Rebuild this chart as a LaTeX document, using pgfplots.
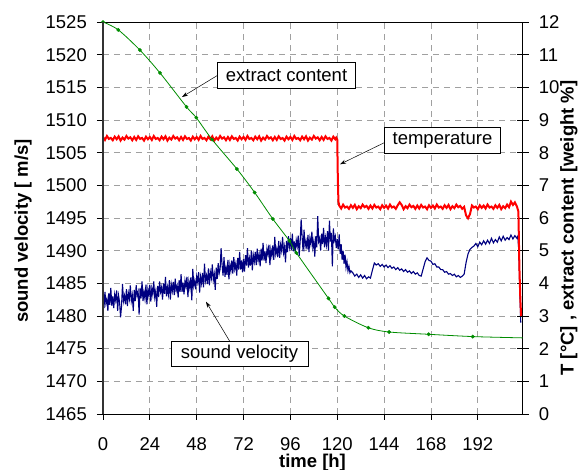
\documentclass[border=0pt]{standalone}
\usepackage{fontspec}
\setmainfont{Liberation Sans}
\usepackage{pgfplots}
\pgfplotsset{compat=1.18}
\usetikzlibrary{arrows.meta}
\definecolor{navyblue}{RGB}{0,0,128}
\definecolor{chgreen}{RGB}{0,140,0}
\definecolor{gridgray}{RGB}{160,160,160}
\pgfplotsset{/pgf/number format/1000 sep={}, /pgf/number format/assume math mode=true}
\begin{document}
\begin{tikzpicture}[font=\fontsize{18.5}{22}\selectfont]
\useasboundingbox (-103pt,-56pt) rectangle (479pt,414pt);
\begin{axis}[
  at={(0,0)}, anchor=south west,
  scale only axis, width=419.7pt, height=392pt,
  xmin=0, xmax=215, ymin=1465, ymax=1525,
  xtick={0,24,...,192}, ytick={1465,1470,...,1525},
  xtick pos=left, ytick pos=left,
  tick align=outside, major tick length=6pt,
  tick style={black, line width=0.8pt},
  axis line style={black, line width=0.8pt},
  grid=major, grid style={gridgray, line width=0.8pt, dash pattern=on 6pt off 5pt},
  yticklabel style={anchor=east, inner sep=0pt, xshift=-10pt},
  xticklabel style={anchor=north, inner sep=0pt, yshift=-17.5pt},
  tick label style={font=\fontsize{18.5}{22}\selectfont},
  clip=true,
]
\addplot[navyblue, line width=1.1pt] table {
0 1483.2
0.5 1481.2
1 1483.7
1.5 1481.9
2 1482.6
2.5 1480.8
3 1483.5
3.5 1481.7
4 1484.3
4.5 1481.6
5 1483.0
5.5 1481.2
6 1483.3
6.5 1482.4
7 1483.9
7.5 1480.8
8 1483.1
8.5 1482.1
9 1479.8
9.5 1481.5
10 1484.9
10.5 1482.3
11 1483.1
11.5 1481.8
12 1484.1
12.5 1481.5
13 1483.5
13.5 1482.6
14 1484.7
14.5 1482.3
15 1483.2
15.5 1480.8
16 1484.0
16.5 1482.3
17 1484.7
17.5 1483.1
18 1483.7
18.5 1480.2
19 1484.3
19.5 1482.7
20 1485.3
20.5 1482.3
21 1483.7
21.5 1482.6
22 1484.8
22.5 1481.8
23 1484.1
23.5 1483.1
24 1484.8
24.5 1482.2
25 1484.2
25.5 1483.3
26 1485.3
26.5 1482.9
27 1483.8
27.5 1481.4
28 1484.6
28.5 1482.9
29 1485.3
29.5 1483.7
30 1484.4
30.5 1482.5
31 1485.0
31.5 1483.4
32 1486.0
32.5 1483.0
33 1484.4
33.5 1483.3
34 1485.5
34.5 1482.5
35 1484.8
35.5 1483.8
36 1485.2
36.5 1483.2
37 1485.7
37.5 1483.9
38 1484.6
38.5 1482.8
39 1485.5
39.5 1483.7
40 1486.4
40.5 1483.7
41 1485.1
41.5 1483.3
42 1485.4
42.5 1484.5
43 1486.0
43.5 1482.9
44 1485.3
44.5 1484.3
45 1485.9
45.5 1482.4
46 1487.2
46.5 1484.6
47 1485.4
47.5 1484.1
48 1486.1
48.5 1485.2
49 1486.7
49.5 1483.6
50 1486.0
50.5 1485.0
51 1486.6
51.5 1484.4
52 1488.0
52.5 1485.4
53 1486.2
53.5 1484.9
54 1487.3
54.5 1484.7
55 1486.7
55.5 1485.8
56 1487.9
56.5 1485.5
57 1486.4
57.5 1484.0
58 1487.4
58.5 1485.7
59 1488.1
59.5 1486.5
60 1487.2
60.5 1490.4
61 1487.8
61.5 1486.2
62 1489.0
62.5 1486.0
63 1487.4
63.5 1486.3
64 1488.6
64.5 1485.6
65 1487.9
65.5 1486.9
66 1488.5
66.5 1486.5
67 1489.0
67.5 1487.2
68 1488.0
68.5 1486.2
69 1488.9
69.5 1487.1
70 1489.8
70.5 1487.1
71 1488.5
71.5 1486.7
72 1488.7
72.5 1486.8
73 1489.3
73.5 1487.7
74 1490.4
74.5 1487.4
75 1488.8
75.5 1487.7
76 1490.0
76.5 1487.0
77 1489.3
77.5 1488.3
78 1489.8
78.5 1487.8
79 1490.3
79.5 1488.5
80 1489.4
80.5 1487.6
81 1490.3
81.5 1488.5
82 1491.2
82.5 1488.5
83 1489.9
83.5 1488.1
84 1490.3
84.5 1489.4
85 1490.9
85.5 1487.8
86 1490.2
86.5 1489.2
87 1490.8
87.5 1488.6
88 1492.1
88.5 1489.5
89 1490.3
89.5 1489.0
90 1491.5
90.5 1488.9
91 1490.9
91.5 1490.0
92 1492.1
92.5 1489.7
93 1490.6
93.5 1488.2
94 1491.5
94.5 1489.8
95 1492.2
95.5 1490.6
96 1491.9
96.5 1490.1
97 1492.6
97.5 1489.9
98 1491.4
98.5 1489.6
99 1491.6
99.5 1490.7
100 1492.3
100.5 1489.2
101 1491.4
101.5 1494.8
102 1492.1
102.5 1489.9
103 1493.2
103.5 1490.6
104 1491.5
104.5 1490.2
105 1492.4
105.5 1489.8
106 1491.9
106.5 1491.0
107 1492.9
107.5 1490.5
108 1491.5
108.5 1489.1
109 1492.2
109.5 1490.5
110 1495.3
110.5 1491.4
111 1491.9
111.5 1490.0
112 1492.6
112.5 1491.0
113 1493.5
113.5 1490.5
114 1492.0
114.5 1490.9
115 1493.0
115.5 1490.0
116 1494.6
116.5 1491.4
117 1492.7
117.5 1487.6
118 1493.4
118.5 1491.6
119 1492.2
119.5 1490.4
120 1491.8
120.5 1490.2
121 1492.5
121.5 1489.5
122 1491.0
122.5 1488.6
123 1490.0
123.5 1488.0
124 1489.4
124.5 1487.4
125 1488.3
125.5 1486.9
126 1487.6
126.5 1486.6
127 1486.9
128 1486.6
129 1486.1
130 1486.4
131 1485.9
132 1486.3
133 1485.8
134 1486.2
135 1485.7
136 1486.0
137 1485.8
138 1487.0
139 1488.1
140 1487.8
141 1488.0
142 1487.6
143 1487.9
144 1487.5
145 1487.8
146 1487.4
147 1487.7
148 1487.3
149 1487.5
150 1487.1
151 1487.4
152 1487.0
153 1487.2
154 1486.8
155 1487.1
156 1486.7
157 1486.9
158 1486.5
159 1486.8
160 1486.4
161 1486.6
162 1486.2
163 1486.1
164 1487.2
165 1488.3
166 1488.9
167 1488.5
168 1488.4
169 1487.9
170 1488.0
171 1487.5
172 1487.5
173 1487.1
174 1487.1
175 1486.7
176 1486.8
177 1486.4
178 1486.5
179 1486.2
180 1486.4
181 1486.0
182 1486.2
183 1485.9
184 1486.1
185 1486.4
186 1488.2
187 1489.5
188 1490.2
189 1490.5
190 1490.7
191 1491.1
192 1490.6
193 1491.3
194 1490.9
195 1491.5
196 1491.0
197 1491.6
198 1491.1
199 1491.9
200 1491.2
201 1491.7
202 1491.3
203 1492.1
204 1491.5
205 1492.2
206 1491.6
207 1492.0
208 1491.7
209 1492.4
210 1491.8
211 1492.3
212 1491.9
212.5 1492.2
213 1490.0
213.5 1484.0
214 1479.0
};
\end{axis}
\begin{axis}[
  at={(0,0)}, anchor=south west,
  scale only axis, width=419.7pt, height=392pt,
  xmin=0, xmax=215, ymin=0, ymax=12,
  axis x line=none, axis y line*=right,
  ytick={0,1,...,12},
  tick align=center, major tick length=12pt,
  tick style={black, line width=0.8pt},
  axis line style={black, line width=0.8pt},
  yticklabel style={anchor=west, inner sep=0pt, xshift=10pt},
  tick label style={font=\fontsize{18.5}{22}\selectfont},
]
\addplot[red, line width=2pt] table {
0 8.48
1 8.39
2 8.51
3 8.42
4 8.45
5 8.38
6 8.49
7 8.41
8 8.50
9 8.37
10 8.46
11 8.40
12 8.51
13 8.43
14 8.47
15 8.38
16 8.48
17 8.39
18 8.50
19 8.42
20 8.45
21 8.37
22 8.49
23 8.41
24 8.48
25 8.39
26 8.51
27 8.42
28 8.45
29 8.38
30 8.49
31 8.41
32 8.50
33 8.37
34 8.46
35 8.40
36 8.51
37 8.43
38 8.47
39 8.38
40 8.48
41 8.39
42 8.50
43 8.42
44 8.45
45 8.37
46 8.49
47 8.41
48 8.48
49 8.39
50 8.51
51 8.42
52 8.45
53 8.38
54 8.49
55 8.41
56 8.50
57 8.37
58 8.46
59 8.40
60 8.51
61 8.43
62 8.47
63 8.38
64 8.48
65 8.39
66 8.50
67 8.42
68 8.45
69 8.37
70 8.49
71 8.41
72 8.48
73 8.39
74 8.51
75 8.42
76 8.45
77 8.38
78 8.49
79 8.41
80 8.50
81 8.37
82 8.46
83 8.40
84 8.51
85 8.43
86 8.47
87 8.38
88 8.48
89 8.39
90 8.50
91 8.42
92 8.45
93 8.37
94 8.49
95 8.41
96 8.48
97 8.39
98 8.51
99 8.42
100 8.45
101 8.38
102 8.49
103 8.41
104 8.50
105 8.37
106 8.46
107 8.40
108 8.51
109 8.43
110 8.47
111 8.38
112 8.48
113 8.39
114 8.50
115 8.42
116 8.45
117 8.37
118 8.49
119 8.41
119.5 8.46
120 8.40
120.3 7.2
120.6 6.5
121 6.38
122 6.29
123 6.41
124 6.32
125 6.35
126 6.28
127 6.39
128 6.31
129 6.40
130 6.27
131 6.36
132 6.30
133 6.41
134 6.33
135 6.37
136 6.28
137 6.38
138 6.29
139 6.40
140 6.32
141 6.35
142 6.27
143 6.39
144 6.31
145 6.38
146 6.29
147 6.41
148 6.32
149 6.35
150 6.28
151 6.39
152 6.48
153 6.40
154 6.27
155 6.36
156 6.30
157 6.41
158 6.33
159 6.37
160 6.28
161 6.38
162 6.29
163 6.40
164 6.32
165 6.35
166 6.27
167 6.39
168 6.31
169 6.38
170 6.29
171 6.41
172 6.32
173 6.35
174 6.28
175 6.39
176 6.31
177 6.40
178 6.27
179 6.36
180 6.30
181 6.41
182 6.33
183 6.37
184 6.28
185 6.34
186 6.08
187 5.99
188 6.12
189 6.38
190 6.32
191 6.35
192 6.27
193 6.39
194 6.31
195 6.38
196 6.29
197 6.41
198 6.32
199 6.35
200 6.28
201 6.39
202 6.31
203 6.40
204 6.27
205 6.36
206 6.30
207 6.41
208 6.33
209 6.50
210 6.40
211 6.48
212 6.36
212.8 6.20
213.3 4.50
213.8 3.50
214.2 3.00
};
\addplot[chgreen, line width=0.8pt, smooth] coordinates {
(0,12.0) (7.8,11.76) (18.9,11.14) (29.2,10.44) (42.8,9.40) (47.8,9.07)
(55.9,8.40) (68.6,7.50) (77.7,6.78) (87.0,5.97) (95.5,5.30) (99.1,4.93)
(115.5,3.54) (118.7,3.27) (123.6,3.00) (135.9,2.64) (146.6,2.51)
(166.8,2.44) (189.4,2.37) (215,2.33)
};
\addplot[only marks, mark=*, mark size=1.7pt, chgreen] coordinates {
(0,12.0) (7.8,11.76) (18.9,11.14) (29.2,10.44) (42.8,9.40) (47.8,9.07)
(55.9,8.40) (68.6,7.50) (77.7,6.78) (87.0,5.97) (95.5,5.30) (99.1,4.93)
(115.5,3.54) (118.7,3.27) (123.6,3.00) (135.9,2.64) (146.6,2.51)
(166.8,2.44) (189.4,2.37)
};
\end{axis}
\draw[line width=1.6pt, black!80] (0,0) -- (0,392pt);
\node[rotate=90, font=\fontsize{18.5}{22}\selectfont\bfseries] at (-80pt,183pt) {sound velocity [ m/s]};
\node[rotate=90, font=\fontsize{18.5}{22}\selectfont\bfseries] at (466pt,186pt) {T [°C] , extract content [weight \%]};
\node[font=\fontsize{18.5}{22}\selectfont\bfseries] at (209.5pt,-48.5pt) {time [h]};
\draw[-{Stealth[length=6pt,width=4pt]}, line width=0.5pt] (114pt,338.3pt) -- (79pt,317pt);
\draw[-{Stealth[length=6pt,width=4pt]}, line width=0.5pt] (281.3pt,271.3pt) -- (237pt,249.7pt);
\draw[-{Stealth[length=6pt,width=4pt]}, line width=0.5pt] (127pt,72.3pt) -- (103pt,112.3pt);
\node[draw, fill=white, line width=0.8pt, minimum width=138pt, minimum height=26pt, inner sep=0pt] at (183.5pt,338.7pt) {extract content};
\node[draw, fill=white, line width=0.8pt, minimum width=116pt, minimum height=26pt, inner sep=0pt] at (339.5pt,274pt) {temperature};
\node[draw, fill=white, line width=0.8pt, minimum width=137pt, minimum height=25pt, inner sep=0pt] at (136.5pt,59.8pt) {sound velocity};
\end{tikzpicture}
\end{document}
